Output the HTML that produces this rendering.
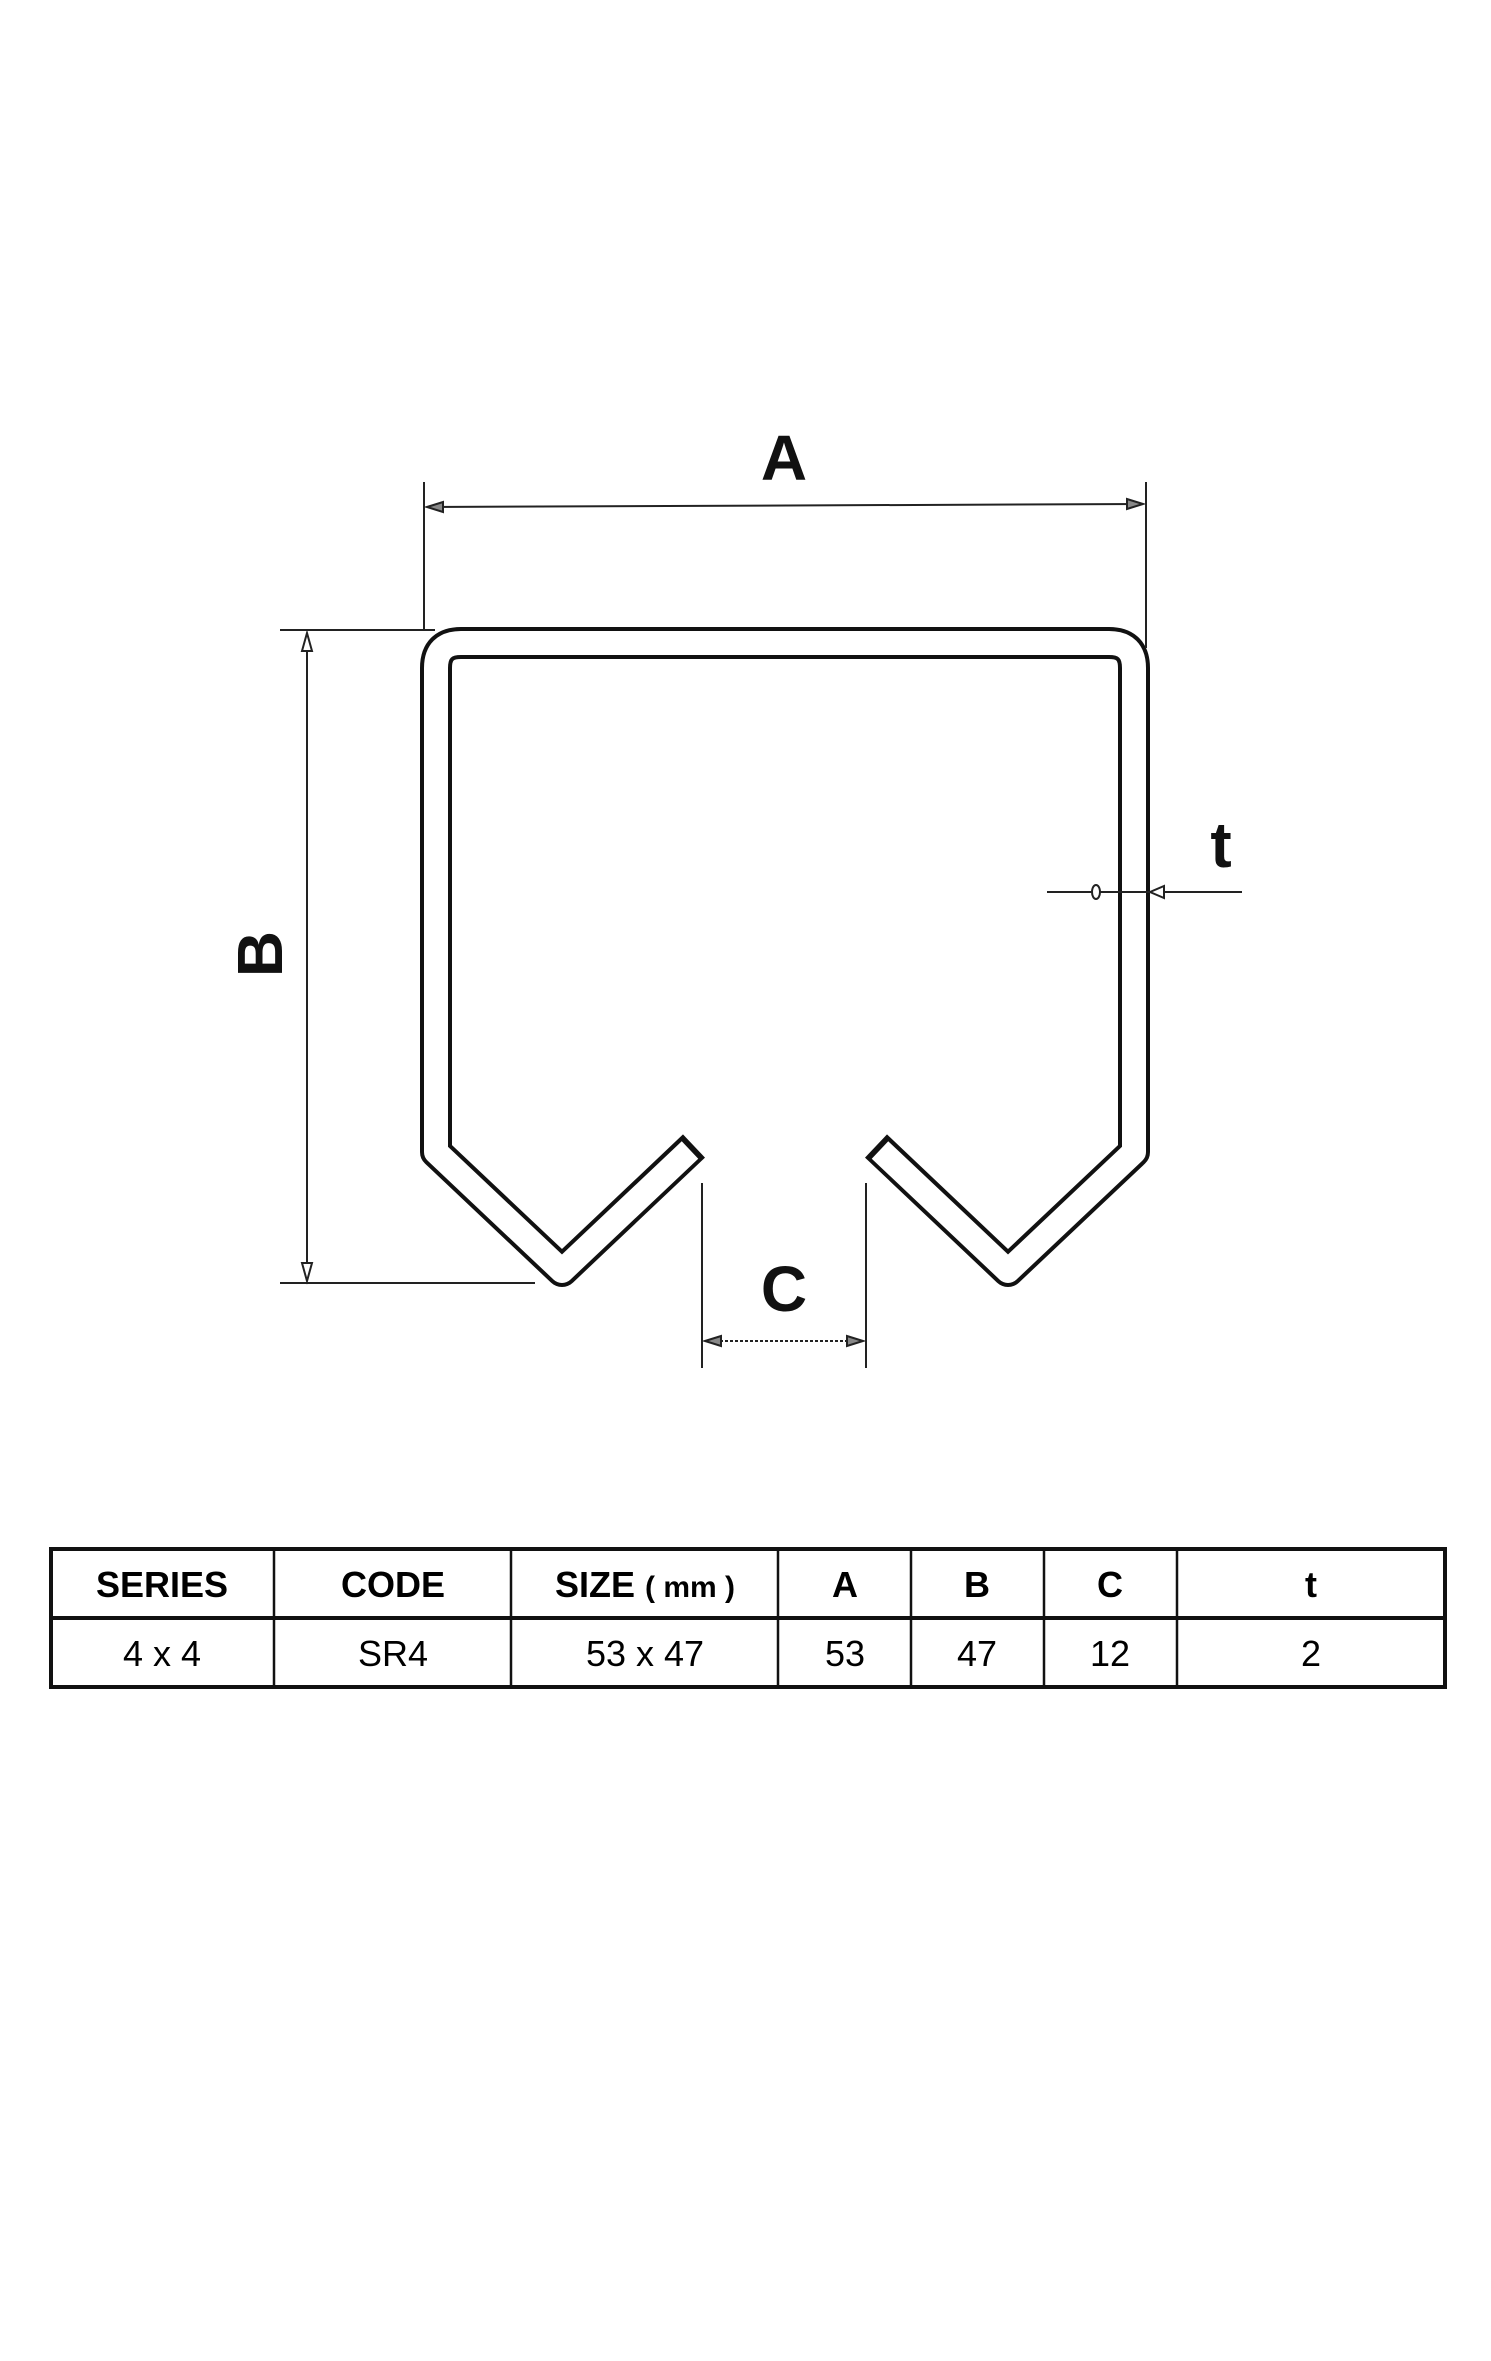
<!DOCTYPE html>
<html><head><style>
html,body{margin:0;padding:0;background:#fff;}
svg{display:block;}
</style></head><body>
<svg width="1491" height="2361" viewBox="0 0 1491 2361" xmlns="http://www.w3.org/2000/svg" font-family="Liberation Sans, Arial, sans-serif">
<rect width="1491" height="2361" fill="#fff"/>
<!-- profile -->
<path d="M694,1146 L562,1271 L436,1152 L436,668 Q436,643 461,643 L1109,643 Q1134,643 1134,668 L1134,1152 L1008,1271 L876,1146" fill="none" stroke="#111" stroke-width="32" stroke-linejoin="round" stroke-linecap="butt"/>
<path d="M690,1150 L562,1271 L436,1152 L436,668 Q436,643 461,643 L1109,643 Q1134,643 1134,668 L1134,1152 L1008,1271 L880,1150" fill="none" stroke="#fff" stroke-width="24" stroke-linejoin="round" stroke-linecap="butt"/>
<!-- A dimension -->
<g stroke="#222" stroke-width="2" fill="none">
<line x1="424" y1="482" x2="424" y2="630"/>
<line x1="1146" y1="482" x2="1146" y2="648"/>
<line x1="427" y1="507" x2="1143" y2="504"/>
<path d="M427,507 L443,502 L443,512 Z" fill="#888"/>
<path d="M1143,504 L1127,499 L1127,509 Z" fill="#888"/>
<!-- B dimension -->
<line x1="280" y1="630" x2="435" y2="630"/>
<line x1="280" y1="1283" x2="535" y2="1283"/>
<line x1="307" y1="633" x2="307" y2="1281"/>
<path d="M307,633 L302,651 L312,651 Z" fill="#fff"/>
<path d="M307,1281 L302,1263 L312,1263 Z" fill="#fff"/>
<!-- t dimension -->
<line x1="1047" y1="892" x2="1242" y2="892"/>
<ellipse cx="1096" cy="892" rx="4" ry="7" fill="#fff"/>
<path d="M1150,892 L1164,886 L1164,898 Z" fill="#fff"/>
<!-- C dimension -->
<line x1="702" y1="1183" x2="702" y2="1368"/>
<line x1="866" y1="1183" x2="866" y2="1368"/>
<line x1="705" y1="1341" x2="863" y2="1341" stroke-dasharray="3 2"/>
<path d="M705,1341 L721,1336 L721,1346 Z" fill="#888"/>
<path d="M863,1341 L847,1336 L847,1346 Z" fill="#888"/>
</g>
<g font-weight="bold" fill="#111" text-anchor="middle">
<text x="784" y="480" font-size="64">A</text>
<text x="0" y="0" font-size="64" transform="translate(282,954) rotate(-90)">B</text>
<text x="1221" y="867" font-size="64">t</text>
<text x="784" y="1311" font-size="64">C</text>
</g>
<!-- table -->
<g stroke="#111" fill="none">
<rect x="51" y="1549" width="1394" height="138" stroke-width="4"/>
<line x1="51" y1="1618" x2="1445" y2="1618" stroke-width="4"/>
<g stroke-width="2.5">
<line x1="274" y1="1549" x2="274" y2="1687"/>
<line x1="511" y1="1549" x2="511" y2="1687"/>
<line x1="778" y1="1549" x2="778" y2="1687"/>
<line x1="911" y1="1549" x2="911" y2="1687"/>
<line x1="1044" y1="1549" x2="1044" y2="1687"/>
<line x1="1177" y1="1549" x2="1177" y2="1687"/>
</g>
</g>
<g font-size="36" fill="#000" text-anchor="middle">
<g font-weight="bold">
<text x="162" y="1597">SERIES</text>
<text x="393" y="1597">CODE</text>
<text x="645" y="1597">SIZE <tspan font-size="30">( mm )</tspan></text>
<text x="845" y="1597">A</text>
<text x="977" y="1597">B</text>
<text x="1110" y="1597">C</text>
<text x="1311" y="1597">t</text>
</g>
<text x="162" y="1666">4 x 4</text>
<text x="393" y="1666">SR4</text>
<text x="645" y="1666">53 x 47</text>
<text x="845" y="1666">53</text>
<text x="977" y="1666">47</text>
<text x="1110" y="1666">12</text>
<text x="1311" y="1666">2</text>
</g>
</svg>
</body></html>
